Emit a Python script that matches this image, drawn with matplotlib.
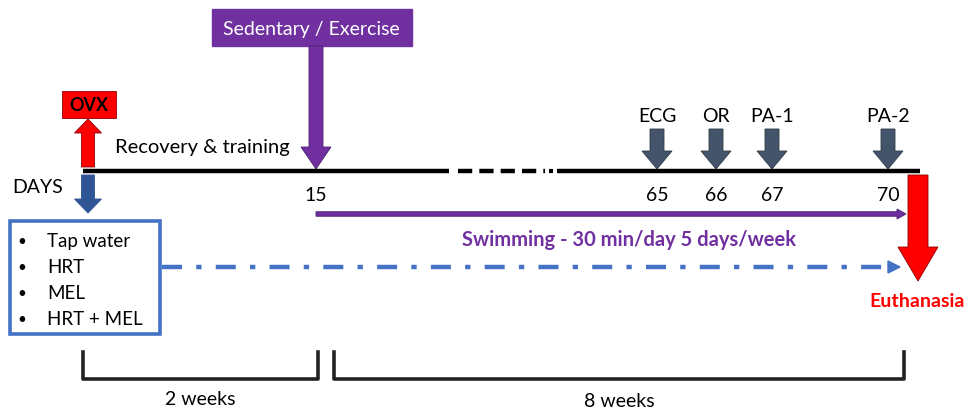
import matplotlib
matplotlib.use("Agg")
import matplotlib.pyplot as plt
from matplotlib.patches import FancyArrow, Rectangle

plt.rcParams['font.family'] = ['Lato', 'DejaVu Sans']

# ---- data ----
day_labels = ["15", "65", "66", "67", "70"]
events = ["ECG", "OR", "PA-1", "PA-2"]
event_days = ["65", "66", "67", "70"]
treatments = ["Tap water", "HRT", "MEL", "HRT + MEL"]
periods = ["2 weeks", "8 weeks"]
start_label = "OVX"
switch_label = "Sedentary / Exercise"
recovery_label = "Recovery & training"
swim_label = "Swimming - 30 min/day 5 days/week"
end_label = "Euthanasia"

# layout (pixel positions of days on the broken timeline)
day_x = {"0": 88, "15": 316, "65": 657, "66": 716, "67": 772, "70": 888}

PURPLE = "#7030A0"
RED = "#FF0000"
DARKBLUE = "#2F5597"
LIGHTBLUE = "#4472C4"
SLATE = "#44546A"
FS = 14

fig = plt.figure(figsize=(9.68, 4.10), dpi=100)
ax = fig.add_axes([0, 0, 1, 1])
ax.set_xlim(0, 968)
ax.set_ylim(410, 0)
ax.axis("off")

TL_Y = 172
# timeline
ax.plot([83, 449], [TL_Y, TL_Y], color="black", lw=3.2, solid_capstyle="butt")
ax.plot([458, 545], [TL_Y, TL_Y], color="black", lw=3.2, dashes=(3.2, 1.6))
ax.plot([548.5, 552.5], [TL_Y, TL_Y], color="black", lw=3.0, solid_capstyle="butt")
ax.plot([557, 920], [TL_Y, TL_Y], color="black", lw=3.2, solid_capstyle="butt")

ax.text(12, 188, "DAYS", fontsize=FS, va="center", ha="left")
for d in day_labels:
    ax.text(day_x[d], 196, d, fontsize=FS, va="center", ha="center")

# OVX
x0 = day_x["0"]
ax.add_patch(FancyArrow(x0, 168, 0, -48, width=13, head_width=27, head_length=14,
                        length_includes_head=True, fc=RED, ec="#8B0000", lw=0.6))
ax.add_patch(Rectangle((62, 92), 54, 27, fc=RED, ec="#8B0000", lw=0.6))
ax.text(89, 105.5, start_label, fontsize=13, fontweight="bold", ha="center", va="center")
ax.add_patch(FancyArrow(x0, 176, 0, 38, width=13, head_width=27, head_length=14,
                        length_includes_head=True, fc=DARKBLUE, ec=DARKBLUE, lw=0.6))

# treatment box
ax.add_patch(Rectangle((10, 222), 150, 113, fc="white", ec=LIGHTBLUE, lw=2.6))
for i, t in enumerate(treatments):
    y = 242 + i * 26
    ax.text(22, y, "\u2022", fontsize=11, ha="center", va="center")
    ax.text(47, y, t, fontsize=13.5, ha="left", va="center")

# dash-dot line
ax.plot([162, 890], [268, 268], color=LIGHTBLUE, lw=3.2, dashes=(4.5, 3.2, 1.2, 3.2))
ax.add_patch(FancyArrow(888, 268, 12, 0, width=0.1, head_width=12, head_length=12,
                        length_includes_head=True, fc=LIGHTBLUE, ec=LIGHTBLUE))

# Sedentary / Exercise
xs = day_x["15"]
ax.add_patch(Rectangle((212, 10), 200, 37, fc=PURPLE, ec=PURPLE))
ax.text(311, 29, switch_label, fontsize=14, color="white", ha="center", va="center")
ax.add_patch(FancyArrow(xs, 47, 0, 123, width=14, head_width=30, head_length=22,
                        length_includes_head=True, fc=PURPLE, ec="#4B1E6E", lw=0.6))
ax.text(115, 148, recovery_label, fontsize=14.5, ha="left", va="center")

# swimming arrow
ax.add_patch(FancyArrow(xs, 215, 590, 0, width=4.5, head_width=10, head_length=9,
                        length_includes_head=True, fc=PURPLE, ec="#4B1E6E", lw=0.6))
ax.text(629, 240, swim_label, fontsize=14.5, fontweight="bold", color=PURPLE,
        ha="center", va="center")

# events
for e, d in zip(events, event_days):
    x = day_x[d]
    ax.add_patch(FancyArrow(x, 130, 0, 40, width=14, head_width=30, head_length=18,
                            length_includes_head=True, fc=SLATE, ec="#2E3A48", lw=0.6))
    ax.text(x, 117, e, fontsize=FS, ha="center", va="center")

# Euthanasia
ax.add_patch(FancyArrow(918, 176, 0, 106, width=20, head_width=40, head_length=34,
                        length_includes_head=True, fc=RED, ec="#8B0000", lw=0.6))
ax.text(965, 302, end_label, fontsize=14, fontweight="bold", color=RED,
        ha="right", va="center")

# brackets
for (xa, xb), lab, ly in zip([(83, 318), (334, 904)], periods, [400, 402]):
    ax.plot([xa, xa, xb, xb], [353, 380, 380, 353], color="#222222", lw=2.6,
            solid_joinstyle="round")
    ax.text((xa + xb) / 2, ly, lab, fontsize=FS, ha="center", va="center")

fig.savefig("out.png", dpi=100)
